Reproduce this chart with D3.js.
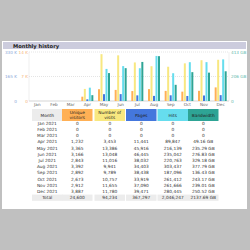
<!DOCTYPE html>
<html>
<head>
<meta charset="utf-8">
<script src="https://cdn.jsdelivr.net/npm/d3@7"></script>
<style>
  body { margin: 0; background: #c0c0c0; }
  svg { display: block; font-family: "DejaVu Sans", Verdana, sans-serif; }
</style>
</head>
<body>
<svg id="chart" width="250" height="250"></svg>
<script>
// monthly history data
var months = ["Jan", "Feb", "Mar", "Apr", "May", "Jun", "Jul", "Aug", "Sep", "Oct", "Nov", "Dec"];
var rowLabels = ["Jan 2021", "Feb 2021", "Mar 2021", "Apr 2021", "May 2021", "Jun 2021",
                 "Jul 2021", "Aug 2021", "Sep 2021", "Oct 2021", "Nov 2021", "Dec 2021"];
var uniqueVisitors = [0, 0, 0, 1232, 3365, 3166, 2843, 3392, 2892, 2673, 2912, 3887];
var visits = [0, 0, 0, 3453, 13386, 13048, 11016, 9941, 9789, 10757, 11655, 11780];
var pages = [0, 0, 0, 11441, 45916, 46445, 38032, 34403, 38438, 33919, 37090, 39471];
var hits = [0, 0, 0, 89847, 216139, 235042, 220763, 303437, 187096, 261412, 261666, 280445];
var bandwidthGB = [0, 0, 0, 49.16, 235.29, 276.83, 329.18, 377.79, 136.43, 243.17, 239.01, 250.52];
var totals = ["24,600", "94,234", "367,297", "2,046,247", "2137.69 GB"];
var leftTicks = ["0", "165 K", "330 K"];
var leftTicks2 = ["0", "7 K", "14 K"];
var rightTicks = ["0", "206 GB", "413 GB"];
var headers = ["Month", "Unique\nvisitors", "Number of\nvisits", "Pages", "Hits", "Bandwidth"];

(function() {
	"use strict";

	var colors = {
		month: "#ececec",
		unique: "#ffb055",
		visits: "#f8e880",
		pages: "#4477dd",
		hits: "#66ddee",
		bw: "#2ea495"
	};

	var svg = d3.select("#chart");

	// white panel + title bar
	svg.append("rect").attr("x", 2).attr("y", 41).attr("width", 245).attr("height", 168).attr("fill", "#fff");
	svg.append("rect").attr("x", 3).attr("y", 42).attr("width", 243).attr("height", 7).attr("fill", "#ccccdd");
	svg.append("text").attr("x", 13).attr("y", 47.6)
		.attr("font-size", 5.2).attr("font-weight", "bold").attr("fill", "#222")
		.text("Monthly history");

	// chart area
	var left = 29, right = 229, top = 52, bottom = 101;

	var x = d3.scaleBand().domain(months).range([left, right]);
	var series = ["unique", "visits", "pages", "hits", "bw"];
	var xs = d3.scaleBand().domain(series).range([0, 12]).paddingInner(0.2);

	var yVis = d3.scaleLinear().domain([0, 14000]).range([bottom, top]);
	var yPag = d3.scaleLinear().domain([0, 330000]).range([bottom, top]);
	var yBw = d3.scaleLinear().domain([0, 413]).range([bottom, top]);

	// grid lines
	[0.5, 1].forEach(function(f) {
		var yy = bottom - (bottom - top) * f;
		svg.append("line").attr("x1", left).attr("x2", right).attr("y1", yy).attr("y2", yy)
			.attr("stroke", "#c8c8c8").attr("stroke-width", 0.5).attr("stroke-dasharray", "1,1");
	});
	svg.append("line").attr("x1", left).attr("x2", right).attr("y1", bottom).attr("y2", bottom)
		.attr("stroke", "#bbb").attr("stroke-width", 0.6);
	svg.append("line").attr("x1", left).attr("x2", left).attr("y1", top).attr("y2", bottom)
		.attr("stroke", "#ddd").attr("stroke-width", 0.5);
	svg.append("line").attr("x1", right).attr("x2", right).attr("y1", top).attr("y2", bottom)
		.attr("stroke", "#ddd").attr("stroke-width", 0.5);

	// axis labels
	var tickPos = [bottom, (bottom + top) / 2, top];
	tickPos.forEach(function(yy, i) {
		svg.append("text").attr("x", 17).attr("y", yy + 1.5).attr("text-anchor", "end")
			.attr("font-size", 4.2).attr("fill", "#8aa6d8").text(leftTicks[i]);
		svg.append("text").attr("x", 28).attr("y", yy + 1.5).attr("text-anchor", "end")
			.attr("font-size", 4.2).attr("fill", "#f4b27a").text(leftTicks2[i]);
		svg.append("text").attr("x", 231).attr("y", yy + 1.5).attr("text-anchor", "start")
			.attr("font-size", 4.2).attr("fill", "#5fb8ad").text(rightTicks[i]);
	});

	svg.selectAll("text.month").data(months).enter().append("text")
		.attr("class", "month")
		.attr("x", function(d) { return x(d) + x.bandwidth() / 2; })
		.attr("y", 106)
		.attr("text-anchor", "middle")
		.attr("font-size", 4.2).attr("fill", "#666")
		.text(function(d) { return d; });

	// bars
	var barData = [];
	months.forEach(function(m, i) {
		barData.push({ m: m, s: "unique", y: yVis(uniqueVisitors[i]) });
		barData.push({ m: m, s: "visits", y: yVis(visits[i]) });
		barData.push({ m: m, s: "pages", y: yPag(pages[i]) });
		barData.push({ m: m, s: "hits", y: yPag(hits[i]) });
		barData.push({ m: m, s: "bw", y: yBw(bandwidthGB[i]) });
	});

	var groupOff = (x.bandwidth() - 12) / 2;
	svg.selectAll("rect.bar").data(barData).enter().append("rect")
		.attr("class", "bar")
		.attr("x", function(d) { return x(d.m) + groupOff + xs(d.s); })
		.attr("y", function(d) { return d.y; })
		.attr("width", xs.bandwidth())
		.attr("height", function(d) { return bottom - d.y; })
		.attr("fill", function(d) { return colors[d.s]; });

	// table
	var colX = [32, 62, 94.5, 126, 157.5, 188];
	var colW = 30.5;
	var headFill = [colors.month, colors.unique, colors.visits, colors.pages, colors.hits, colors.bw];
	var headTop = 109, headH = 12;

	headers.forEach(function(h, i) {
		svg.append("rect").attr("x", colX[i]).attr("y", headTop).attr("width", colW).attr("height", headH)
			.attr("fill", headFill[i]);
		var lines = h.split("\n");
		var t = svg.append("text").attr("text-anchor", "middle").attr("font-size", 4.3).attr("fill", "#222");
		lines.forEach(function(l, j) {
			t.append("tspan").attr("x", colX[i] + colW / 2)
				.attr("y", headTop + headH / 2 + 1.5 + (j - (lines.length - 1) / 2) * 4.6)
				.text(l);
		});
	});

	var fmt = d3.format(",");
	var rowH = 6.2, firstRow = 123.3;
	rowLabels.forEach(function(r, i) {
		var cells = [r, fmt(uniqueVisitors[i]), fmt(visits[i]), fmt(pages[i]), fmt(hits[i]),
			bandwidthGB[i] === 0 ? "0" : bandwidthGB[i].toFixed(2) + " GB"];
		cells.forEach(function(c, j) {
			svg.append("text").attr("x", colX[j] + colW / 2).attr("y", firstRow + i * rowH + 1.5)
				.attr("text-anchor", "middle").attr("font-size", 4.3).attr("fill", "#333").text(c);
		});
	});

	var totY = firstRow + 12 * rowH;
	["Total"].concat(totals).forEach(function(c, j) {
		svg.append("rect").attr("x", colX[j]).attr("y", totY - 3.1).attr("width", colW).attr("height", 6.2)
			.attr("fill", "#ececec");
		svg.append("text").attr("x", colX[j] + colW / 2).attr("y", totY + 1.5)
			.attr("text-anchor", "middle").attr("font-size", 4.3).attr("fill", "#333").text(c);
	});
})();
</script>
</body>
</html>
